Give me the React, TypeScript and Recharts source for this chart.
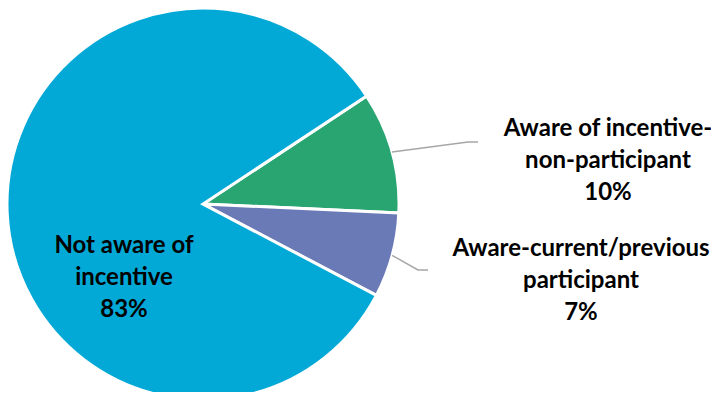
import { PieChart, Pie, Cell } from 'recharts'

const categories = ['Aware of incentive-non-participant', 'Aware-current/previous participant', 'Not aware of incentive']
const shares = [10, 7, 83]
const colors = ['#29A572', '#6A7AB7', '#02A9D6']

// label text lines per slice (the percent line is added from the data)
const labelLines = [
    ['Aware of incentive-', 'non-participant'],
    ['Aware-current/previous', 'participant'],
    ['Not aware of', 'incentive'],
]

const data = categories.map((name, i) => ({ name, value: shares[i] }))

const RADIAN = Math.PI / 180

const renderLabel = ({ cx, cy, midAngle, outerRadius, percent, index }: any) => {
    const lines = [...labelLines[index], `${Math.round(percent * 100)}%`]
    const sx = cx + outerRadius * Math.cos(-midAngle * RADIAN)
    const sy = cy + outerRadius * Math.sin(-midAngle * RADIAN)

    let tx = 0
    let ty = 0
    let leader: string | null = null
    if (index === 0) {
        tx = 608
        ty = 126
        leader = `M${sx},${sy} L468,142 L478,142`
    } else if (index === 1) {
        tx = 581
        ty = 246
        leader = `M${sx},${sy} L418,270 L428,270`
    } else {
        tx = 124
        ty = 243
    }

    return (
        <g>
            {leader && <path d={leader} stroke="#A6A6A6" strokeWidth={1.5} fill="none" />}
            <text
                x={tx}
                y={ty}
                textAnchor="middle"
                dominantBaseline="central"
                fontFamily="Lato, 'Open Sans', sans-serif"
                fontWeight="bold"
                fontSize={24}
                fill="#000"
            >
                {lines.map((l, i) => (
                    <tspan key={i} x={tx} dy={i === 0 ? 0 : 32}>{l}</tspan>
                ))}
            </text>
        </g>
    )
}

export default function App() {
    return (
        <div style={{ width: 719, height: 400, margin: -8, background: '#fff' }}>
            <PieChart width={719} height={400} margin={{ top: 0, right: 0, bottom: 0, left: 0 }}>
                <Pie
                    data={data}
                    dataKey="value"
                    cx={203}
                    cy={204}
                    outerRadius={196}
                    startAngle={33.4}
                    endAngle={-326.6}
                    stroke="#fff"
                    strokeWidth={3}
                    labelLine={false}
                    label={renderLabel}
                    isAnimationActive={false}
                >
                    {data.map((d, i) => (
                        <Cell key={`cell-${i}`} fill={colors[i]} />
                    ))}
                </Pie>
            </PieChart>
        </div>
    )
}
